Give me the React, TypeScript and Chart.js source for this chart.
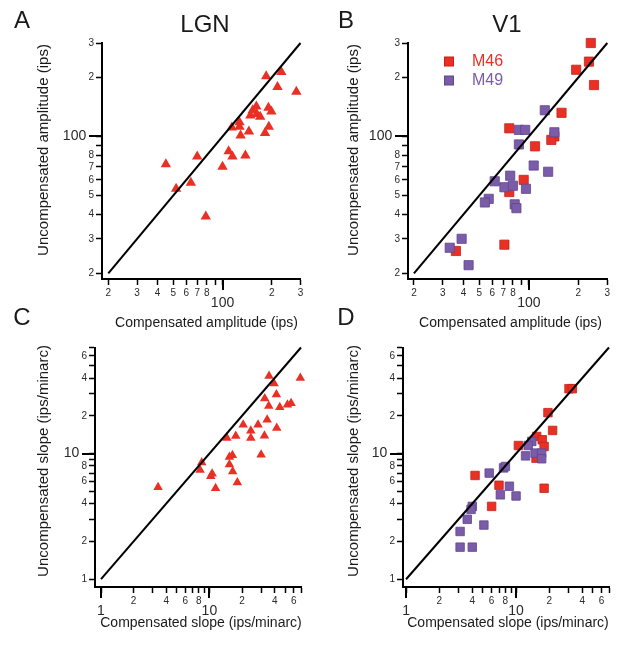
import React, { useEffect, useRef } from 'react';
import { Chart, registerables } from 'chart.js';

Chart.register(...registerables);

const RED = '#ea3024';
const RED_EDGE = '#c4241b';
const PURPLE = '#7a5ca8';
const PURPLE_EDGE = '#5f4690';
const FONT = '"Liberation Sans", Arial, Helvetica, sans-serif';

// ---------------- Data ----------------
// A: LGN amplitude (ips)
const lgnAmpCompensated = [45, 52, 64, 70, 79, 100, 109, 115, 138, 114, 127, 127, 129, 145, 148, 153, 161, 162, 170, 182, 192, 191, 199, 185, 217, 229, 283];
const lgnAmpUncompensated = [72, 54, 58, 79, 39, 70, 84, 79, 80, 111, 118, 112, 101, 106, 128, 136, 142, 130, 126, 104, 112, 140, 134, 203, 179, 213, 169];

// B: V1 amplitude (ips)
const v1AmpM46Compensated = [238, 232, 194, 249, 158, 76, 143, 137, 109, 93, 76, 71, 36];
const v1AmpM46Uncompensated = [300, 241, 219, 183, 132, 110, 100, 96, 89, 60, 52, 28, 26];
const v1AmpM49Compensated = [125, 87, 95, 143, 87, 107, 131, 77, 62, 71, 80, 96, 57, 54, 82, 84, 39, 33, 43];
const v1AmpM49Uncompensated = [136, 108, 108, 105, 91, 71, 66, 63, 59, 55, 56, 54, 48, 46, 45, 43, 30, 27, 22];

// C: LGN slope (ips/minarc)
const lgnSlopeCompensated = [3.36, 8.2, 8.5, 10.3, 10.6, 11.4, 15.3, 15.3, 16.3, 16.4, 18.1, 14.5, 17.5, 20.5, 24.1, 24.1, 28.1, 32.2, 30, 34.1, 41.8, 32.4, 35.3, 41.5, 44.6, 52.5, 56.7, 35.5, 39.5, 69];
const lgnSlopeUncompensated = [5.4, 7.4, 8.5, 6.6, 6.9, 5.3, 8.2, 9.4, 9.7, 7.2, 5.9, 13.3, 13.8, 17, 15.2, 13.3, 17, 13.9, 9.8, 18.6, 16, 27.5, 23.9, 29.6, 23.4, 24.5, 25.2, 41.5, 36.2, 40];

// D: V1 slope (ips/minarc)
const v1SlopeM46Compensated = [30.3, 32.5, 19.5, 21.5, 15.4, 17.3, 18, 10.5, 15.2, 18, 4.24, 7.0, 6.0];
const v1SlopeM46Uncompensated = [32.9, 32.9, 21.2, 15.3, 13.7, 12.9, 11.4, 11.6, 9.2, 5.3, 6.7, 5.6, 3.8];
const v1SlopeM49Compensated = [13.9, 12.9, 12.2, 14.9, 17.1, 17.1, 7.7, 8.0, 5.7, 8.7, 7.2, 10, 4.0, 3.9, 3.6, 5.1, 3.1, 3.1, 4.0];
const v1SlopeM49Uncompensated = [12.5, 11.6, 9.6, 10.1, 10.1, 9.1, 7.7, 7.9, 7.0, 5.5, 4.7, 4.6, 3.8, 3.6, 3.0, 2.7, 2.4, 1.8, 1.8];

// Axes
const ampRange = [20, 300];
const slopeRange = [1, 70];
const ampTicks = [20, 30, 40, 50, 60, 70, 80, 90, 100, 200, 300];
const ampTickLabels = ['2', '3', '4', '5', '6', '7', '8', '', '100', '2', '3'];
const ampMajor = [100];
const slopeTicks = [1, 2, 3, 4, 5, 6, 7, 8, 9, 10, 20, 30, 40, 50, 60, 70];
const slopeTickLabels = ['1', '2', '', '4', '', '6', '', '8', '', '10', '2', '', '4', '', '6', ''];
const slopeMajorX = [1, 10];
const slopeMajorY = [10];

const seriesNames = ['M46', 'M49'];

// ---------------- Helpers ----------------
const pts = (xs: number[], ys: number[]) => xs.map((x, i) => ({ x, y: ys[i] }));

type TextItem = { text: string; x: number; y: number; size: number; rotate?: number; color?: string; align?: CanvasTextAlign };

type PanelCfg = {
  id: string;
  padding: { left: number; top: number; right: number; bottom: number };
  yWidth: number;
  xHeight: number;
  xMin: number; xMax: number; yMin: number; yMax: number;
  diag: number[];
  ticks: number[];
  labels: string[];
  majorX: number[];
  majorY: number[];
  series: { label: string; xs: number[]; ys: number[]; style: string; radius: number; color: string; edge: string }[];
  texts: TextItem[];
  legend?: { x: number; y: number; gap: number; size: number; textX: number };
};

const W = 624;
const H = 649;

function axis(kind: 'x' | 'y', min: number, max: number, ticks: number[], labels: string[], majors: number[], size: number) {
  return {
    type: 'logarithmic',
    position: kind === 'x' ? 'bottom' : 'left',
    min,
    max,
    bounds: 'data',
    afterBuildTicks: (scale: any) => {
      scale.ticks = ticks.map((v) => ({ value: v }));
    },
    afterFit: (scale: any) => {
      if (kind === 'x') scale.height = size;
      else scale.width = size;
    },
    grid: {
      display: true,
      drawOnChartArea: false,
      drawTicks: true,
      tickLength: 6,
      color: '#000',
      tickColor: '#000',
      tickWidth: 1.5,
    },
    border: { display: true, color: '#000', width: 2 },
    title: { display: false },
    ticks: {
      autoSkip: false,
      maxRotation: 0,
      minRotation: 0,
      padding: 2,
      color: '#2a2a2a',
      callback: (value: number, index: number) => {
        const lab = labels[index] ?? '';
        const isMajor = majors.includes(ticks[index]);
        if (!isMajor) return lab;
        return kind === 'x' ? ['', lab] : lab + '  ';
      },
      font: (ctx: any) =>
        ctx.tick && majors.includes(ctx.tick.value)
          ? { family: FONT, size: 14, lineHeight: 0.78 }
          : { family: FONT, size: 10, lineHeight: 1.2 },
    },
  };
}

function makeDecor(cfg: PanelCfg) {
  return {
    id: 'panelDecor_' + cfg.id,
    afterDraw(chart: any) {
      const { ctx, chartArea, scales } = chart;
      ctx.save();
      // longer major tick marks
      ctx.strokeStyle = '#000';
      ctx.lineWidth = 2;
      for (const v of cfg.majorX) {
        const px = Math.round(scales.x.getPixelForValue(v));
        ctx.beginPath();
        ctx.moveTo(px, chartArea.bottom);
        ctx.lineTo(px, chartArea.bottom + 11);
        ctx.stroke();
      }
      for (const v of cfg.majorY) {
        const py = Math.round(scales.y.getPixelForValue(v));
        ctx.beginPath();
        ctx.moveTo(chartArea.left, py);
        ctx.lineTo(chartArea.left - 13, py);
        ctx.stroke();
      }
      // texts
      for (const t of cfg.texts) {
        ctx.save();
        ctx.font = `${t.size}px ${FONT}`;
        ctx.fillStyle = t.color || '#1a1a1a';
        ctx.textAlign = t.align || 'center';
        ctx.textBaseline = 'middle';
        ctx.translate(t.x, t.y);
        if (t.rotate) ctx.rotate(t.rotate);
        ctx.fillText(t.text, 0, 0);
        ctx.restore();
      }
      // legend
      if (cfg.legend) {
        const L = cfg.legend;
        cfg.series.forEach((s, i) => {
          const cy = L.y + i * L.gap;
          const cx = L.x;
          ctx.fillStyle = s.color;
          ctx.fillRect(cx - L.size / 2, cy - L.size / 2, L.size, L.size);
          ctx.strokeStyle = s.edge;
          ctx.lineWidth = 1;
          ctx.strokeRect(cx - L.size / 2, cy - L.size / 2, L.size, L.size);
          ctx.font = `16px ${FONT}`;
          ctx.fillStyle = s.color;
          ctx.textAlign = 'left';
          ctx.textBaseline = 'middle';
          ctx.fillText(s.label, L.textX, cy);
        });
      }
      ctx.restore();
    },
  };
}

function buildConfig(cfg: PanelCfg): any {
  const datasets: any[] = [
    {
      label: 'unity',
      data: [
        { x: cfg.diag[0], y: cfg.diag[0] },
        { x: cfg.diag[1], y: cfg.diag[1] },
      ],
      showLine: true,
      borderColor: '#000',
      borderWidth: 2,
      pointRadius: 0,
      clip: false,
    },
  ];
  // later datasets are drawn underneath earlier ones; put last series on top
  const ordered = [...cfg.series].reverse();
  for (const s of ordered) {
    datasets.push({
      label: s.label,
      data: pts(s.xs, s.ys),
      pointStyle: s.style,
      pointRadius: s.radius,
      backgroundColor: s.color,
      borderColor: s.edge,
      borderWidth: s.style === 'rect' ? 0.8 : 0,
      showLine: false,
      clip: false,
    });
  }
  return {
    type: 'scatter',
    data: { datasets },
    options: {
      responsive: false,
      animation: false,
      devicePixelRatio: 1,
      events: [],
      layout: { padding: cfg.padding },
      plugins: { legend: { display: false }, tooltip: { enabled: false }, title: { display: false } },
      scales: {
        x: axis('x', cfg.xMin, cfg.xMax, cfg.ticks, cfg.labels, cfg.majorX, cfg.xHeight),
        y: axis('y', cfg.yMin, cfg.yMax, cfg.ticks, cfg.labels, cfg.majorY, cfg.yWidth),
      },
    },
    plugins: [makeDecor(cfg)],
  };
}

const HALF_PI = Math.PI / 2;

const panels: PanelCfg[] = [
  {
    id: 'A',
    padding: { left: 0, top: 43, right: W - 300.5, bottom: H - 340 },
    yWidth: 102,
    xHeight: 61,
    xMin: 18.3, xMax: ampRange[1], yMin: 18.7, yMax: ampRange[1],
    diag: ampRange,
    ticks: ampTicks,
    labels: ampTickLabels,
    majorX: ampMajor,
    majorY: ampMajor,
    series: [{ label: 'LGN', xs: lgnAmpCompensated, ys: lgnAmpUncompensated, style: 'triangle', radius: 6, color: RED, edge: RED_EDGE }],
    texts: [
      { text: 'A', x: 22, y: 21, size: 24 },
      { text: 'LGN', x: 205, y: 25, size: 24 },
      { text: 'Uncompensated amplitude (ips)', x: 43.5, y: 150, size: 15, rotate: -HALF_PI },
      { text: 'Compensated amplitude (ips)', x: 206.5, y: 323.5, size: 14 },
    ],
  },
  {
    id: 'B',
    padding: { left: 306, top: 43, right: W - 607.3, bottom: H - 340 },
    yWidth: 102,
    xHeight: 61,
    xMin: 18.4, xMax: ampRange[1], yMin: 18.7, yMax: ampRange[1],
    diag: ampRange,
    ticks: ampTicks,
    labels: ampTickLabels,
    majorX: ampMajor,
    majorY: ampMajor,
    series: [
      { label: seriesNames[0], xs: v1AmpM46Compensated, ys: v1AmpM46Uncompensated, style: 'rect', radius: 6.5, color: RED, edge: RED_EDGE },
      { label: seriesNames[1], xs: v1AmpM49Compensated, ys: v1AmpM49Uncompensated, style: 'rect', radius: 6.5, color: PURPLE, edge: PURPLE_EDGE },
    ],
    texts: [
      { text: 'B', x: 346, y: 21, size: 24 },
      { text: 'V1', x: 507, y: 25, size: 24 },
      { text: 'Uncompensated amplitude (ips)', x: 353.5, y: 150, size: 15, rotate: -HALF_PI },
      { text: 'Compensated amplitude (ips)', x: 510.5, y: 323.5, size: 14 },
    ],
    legend: { x: 449, y: 61.5, gap: 19, size: 9, textX: 472 },
  },
  {
    id: 'C',
    padding: { left: 0, top: 347.5, right: W - 301, bottom: 0 },
    yWidth: 95,
    xHeight: 62,
    xMin: 0.88, xMax: slopeRange[1], yMin: 0.867, yMax: slopeRange[1],
    diag: slopeRange,
    ticks: slopeTicks,
    labels: slopeTickLabels,
    majorX: slopeMajorX,
    majorY: slopeMajorY,
    series: [{ label: 'LGN', xs: lgnSlopeCompensated, ys: lgnSlopeUncompensated, style: 'triangle', radius: 5.5, color: RED, edge: RED_EDGE }],
    texts: [
      { text: 'C', x: 22, y: 318, size: 24 },
      { text: 'Uncompensated slope (ips/minarc)', x: 43.5, y: 461, size: 15, rotate: -HALF_PI },
      { text: 'Compensated slope (ips/minarc)', x: 201, y: 623, size: 14 },
    ],
  },
  {
    id: 'D',
    padding: { left: 306, top: 347.5, right: W - 609, bottom: 0 },
    yWidth: 97,
    xHeight: 62,
    xMin: 0.938, xMax: slopeRange[1], yMin: 0.867, yMax: slopeRange[1],
    diag: slopeRange,
    ticks: slopeTicks,
    labels: slopeTickLabels,
    majorX: slopeMajorX,
    majorY: slopeMajorY,
    series: [
      { label: seriesNames[0], xs: v1SlopeM46Compensated, ys: v1SlopeM46Uncompensated, style: 'rect', radius: 6, color: RED, edge: RED_EDGE },
      { label: seriesNames[1], xs: v1SlopeM49Compensated, ys: v1SlopeM49Uncompensated, style: 'rect', radius: 6, color: PURPLE, edge: PURPLE_EDGE },
    ],
    texts: [
      { text: 'D', x: 346, y: 318, size: 24 },
      { text: 'Uncompensated slope (ips/minarc)', x: 353.5, y: 461, size: 15, rotate: -HALF_PI },
      { text: 'Compensated slope (ips/minarc)', x: 508, y: 623, size: 14 },
    ],
  },
];

function Panel({ cfg }: { cfg: PanelCfg }) {
  const ref = useRef<HTMLCanvasElement>(null);
  useEffect(() => {
    if (!ref.current) return;
    const chart = new Chart(ref.current, buildConfig(cfg));
    return () => chart.destroy();
  }, [cfg]);
  return (
    <canvas
      ref={ref}
      width={W}
      height={H}
      style={{ position: 'absolute', left: 0, top: 0, width: W, height: H }}
    />
  );
}

export default function App() {
  return (
    <div style={{ position: 'fixed', left: 0, top: 0, width: W, height: H, background: '#fff', overflow: 'hidden' }}>
      {panels.map((p) => (
        <Panel key={p.id} cfg={p} />
      ))}
    </div>
  );
}
